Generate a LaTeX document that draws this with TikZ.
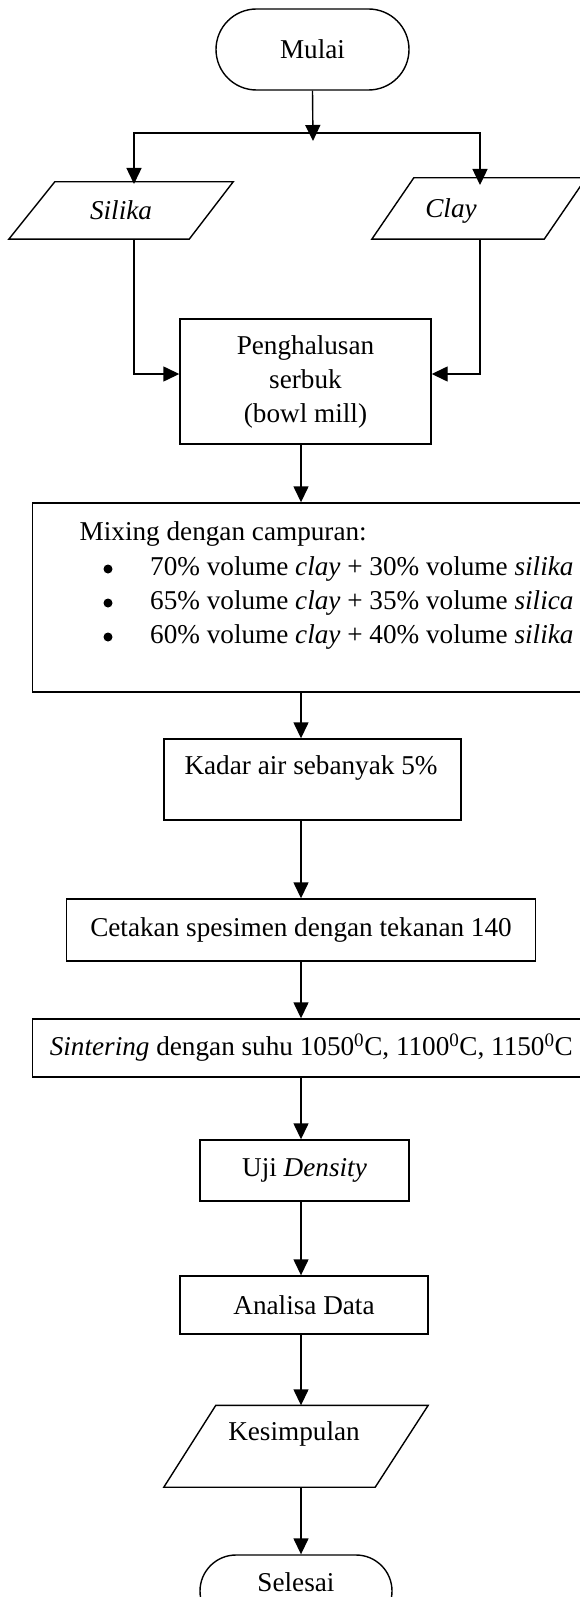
\documentclass[tikz,border=0pt]{standalone}
\usepackage{fontspec}
\setmainfont{Liberation Serif}
\usetikzlibrary{arrows.meta,shapes.misc,calc}
\begin{document}
\begin{tikzpicture}[x=1pt,y=-1pt,
  font=\fontsize{27.2}{34}\selectfont,
  line/.style={line width=1.4pt},
  arr/.style={line width=1.4pt,-{Triangle[length=16pt,width=15pt]}},
  box/.style={draw,line width=1.4pt,rectangle,inner sep=0pt,align=center},
  term/.style={draw,line width=1.4pt,rounded rectangle,inner sep=0pt},
  ghost/.style={rectangle,inner sep=0pt},
  txt/.style={inner sep=0pt},
  bul/.style={circle,fill=black,inner sep=0pt,minimum size=9pt}]
\clip (0,0) rectangle (580,1597);
\coordinate (col) at (301,0);

% start
\node[term,minimum width=193pt,minimum height=81pt] (mulai) at (312.5,49.5) {Mulai};
\coordinate (split) at (313,133);
\coordinate (splittip) at (313,141);
\draw[arr] (mulai.south) -- (splittip);

% inputs
\node[ghost,minimum width=224pt,minimum height=57pt] (silika) at (121,210.5) {\textit{Silika}};
\draw[line] ($(silika.north west)+(46,0)$) -- (silika.north east)
  -- ($(silika.south east)+(-44,0)$) -- (silika.south west) -- cycle;
\node[ghost,minimum width=214pt,minimum height=61pt] (clay) at (479,208.5) {};
\draw[line] ($(clay.north west)+(42,0)$) -- (clay.north east)
  -- ($(clay.south east)+(-42,0)$) -- (clay.south west) -- cycle;
\node[txt] (clayT) at (451,211) {\textit{Clay}};

\coordinate (silIn) at (134,184);
\coordinate (clayIn) at (480,185);
\draw[arr] (split) -| (silIn);
\draw[arr] (split) -| (clayIn);

% grinding
\node[box,minimum width=251pt,minimum height=125pt] (pengh) at (305.5,381.5) {Penghalusan\\serbuk\\(bowl mill)};
\draw[arr] (silika.south -| silIn) |- ([yshift=7.5pt]pengh.west);
\draw[arr] (clay.south -| clayIn) |- ([yshift=7.5pt]pengh.east);

% mixing
\node[box,minimum width=567.5pt,minimum height=189pt] (mix) at (316.25,597.5) {};
\node[txt,anchor=west] (m0) at (79.5,534) {Mixing dengan campuran:};
\node[bul] (b1) at (108,569) {};
\node[bul] (b2) at (108,603) {};
\node[bul] (b3) at (108,637) {};
\node[txt,anchor=west] (m1) at (150,569) {70\% volume \textit{clay} + 30\% volume \textit{silika}};
\node[txt,anchor=west] (m2) at (150,603) {65\% volume \textit{clay} + 35\% volume \textit{silica}};
\node[txt,anchor=west] (m3) at (150,637) {60\% volume \textit{clay} + 40\% volume \textit{silika}};
\draw[arr] (pengh.south -| col) -- (mix.north -| col);

% water
\node[box,minimum width=297pt,minimum height=81pt] (kadar) at (312.5,779.5) {};
\node[txt] (kadarT) at (311,768) {Kadar air sebanyak 5\%};
\draw[arr] (mix.south -| col) -- (kadar.north -| col);

% pressing
\node[box,minimum width=469pt,minimum height=62pt] (cetak) at (301,930) {Cetakan spesimen dengan tekanan 140};
\draw[arr] (kadar.south -| col) -- (cetak.north -| col);

% sintering
\node[box,minimum width=557.5pt,minimum height=58pt] (sint) at (311.25,1048) {\textit{Sintering} dengan suhu 1050\textsuperscript{0}C, 1100\textsuperscript{0}C, 1150\textsuperscript{0}C};
\draw[arr] (cetak.south -| col) -- (sint.north -| col);

% density
\node[box,minimum width=209pt,minimum height=61pt] (uji) at (304.5,1170.5) {Uji \textit{Density}};
\draw[arr] (sint.south -| col) -- (uji.north -| col);

% analysis
\node[box,minimum width=248pt,minimum height=58pt] (analisa) at (304,1305) {Analisa Data};
\draw[arr] (uji.south -| col) -- (analisa.north -| col);

% conclusion
\node[ghost,minimum width=264pt,minimum height=81.5pt] (kes) at (296,1446.25) {};
\draw[line] ($(kes.north west)+(52,0)$) -- (kes.north east)
  -- ($(kes.south east)+(-53,0)$) -- (kes.south west) -- cycle;
\node[txt] (kesT) at (294,1434) {Kesimpulan};
\draw[arr] (analisa.south -| col) -- (kes.north -| col);

% end
\node[term,minimum width=192pt,minimum height=72pt] (selesai) at (296,1591) {};
\node[txt] (selesaiT) at (296,1582) {Selesai};
\draw[arr] (kes.south -| col) -- (selesai.north -| col);
\end{tikzpicture}
\end{document}
